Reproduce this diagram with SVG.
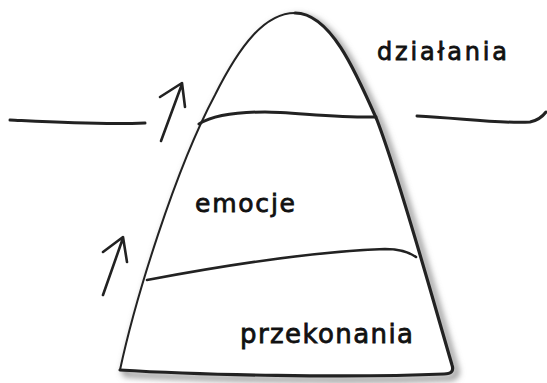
<svg xmlns="http://www.w3.org/2000/svg" width="547" height="383" viewBox="0 0 547 383">
<style>
.ink{fill:none;stroke:#222;stroke-linecap:round;stroke-linejoin:round}
.lbl{font-family:"DejaVu Sans","Liberation Sans",sans-serif;fill:#111;stroke:#111;stroke-width:0.8}
</style>
<defs>
<filter id="sh" x="-10%" y="-10%" width="130%" height="130%">
<feGaussianBlur stdDeviation="3"/>
</filter>
</defs>
<rect width="547" height="383" fill="#fff"/>
<g id="pyramid">
<path d="M120,370 C135,300 175,170 215,95 C240,45 265,13 295,13 C330,13 355,70 377,120 C400,180 430,290 452,365 Q455,374 444,374 C350,378 200,375 120,370" fill="none" stroke="#888" stroke-width="5" transform="translate(4,4)" filter="url(#sh)"/>
<path d="M120,370 C135,300 175,170 215,95 C240,45 265,13 295,13 C330,13 355,70 377,120 C400,180 430,290 452,365 Q455,374 444,374 C350,378 200,375 120,370 Z" fill="#fff" stroke="none"/>
<path class="ink" d="M120,370 C135,300 175,170 215,95 C240,45 265,13 295,13" stroke-width="2"/>
<path class="ink" d="M295,13 C330,13 355,70 377,120 C400,180 430,290 452,365 Q455,374 444,374 C350,378 200,375 120,370" stroke-width="3.2"/>
</g>
<g id="layer-dzialania">
<text class="lbl" x="377" y="60" font-size="24" textLength="130" lengthAdjust="spacing">działania</text>
</g>
<g id="layer-emocje">
<path class="ink" d="M199,124 C215,114 240,112 265,112 S340,118 376,117" stroke-width="3"/>
<text class="lbl" x="195" y="212" font-size="25" textLength="100" lengthAdjust="spacing">emocje</text>
</g>
<g id="layer-przekonania">
<path class="ink" d="M147,280 C200,270 300,252 385,249 Q405,249 416,257" stroke-width="2.6"/>
<text class="lbl" x="240" y="343" font-size="26" textLength="173" lengthAdjust="spacing">przekonania</text>
</g>
<g id="connectors">
<path class="ink" d="M10,120 C50,122 100,125 145,123" stroke-width="3"/>
<path class="ink" d="M417,116 C460,118 500,124 530,122 Q540,120 546,112" stroke-width="3"/>
<path class="ink" d="M161,141 L182,84 M160,97 L182,83 L185,107" stroke-width="2.6"/>
<path class="ink" d="M103,295 L123,238 M103,252 L123,237 L127,262" stroke-width="2.6"/>
</g>
</svg>
